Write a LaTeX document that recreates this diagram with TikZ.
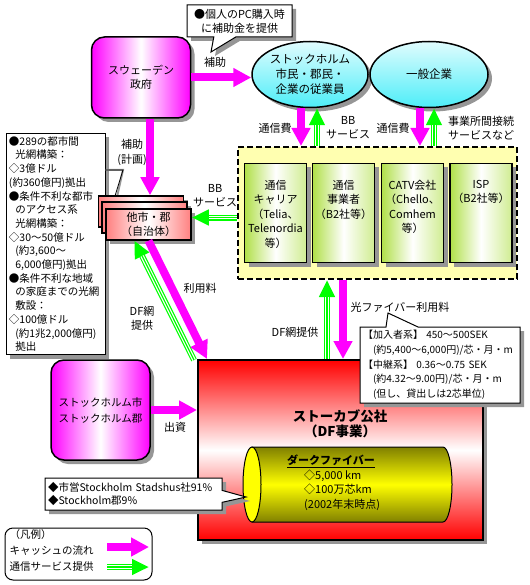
\documentclass[tikz,border=0pt]{standalone}
\usepackage{fontspec}
\setmainfont{Noto Sans CJK JP}
\usetikzlibrary{arrows.meta,shadows,shapes.geometric,shapes.callouts}
\definecolor{flowgreen}{RGB}{0,255,0}
\definecolor{cashpink}{RGB}{255,0,255}
\definecolor{skycyan}{RGB}{0,230,245}
\definecolor{boxred}{RGB}{255,0,0}
\definecolor{fiberyellow}{RGB}{255,255,0}
\definecolor{fiberolive}{RGB}{128,128,0}
\definecolor{panelyellow}{RGB}{255,255,176}
\definecolor{leafgreen}{RGB}{176,224,72}
\definecolor{stackred}{RGB}{255,128,128}
\definecolor{shadowgray}{RGB}{150,150,150}
\tikzset{%
  % Specifications for style of nodes:
  base/.style = {
    rectangle,
    draw=black,
    line width=1.5pt,
    text centered,
    align=center,
    inner sep=1pt
  },
  shadowed/.style = {drop shadow={fill=shadowgray, opacity=1,
      shadow xshift=4pt, shadow yshift=-4pt}},
  actor/.style = {base, shadowed, rounded corners=13pt,
    left color=cashpink, right color=cashpink, middle color=white},
  user/.style = {base, ellipse, shadowed, inner sep=0pt,
    top color=skycyan!12, bottom color=skycyan!70},
  panel/.style = {base, line width=2pt, dash pattern=on 6pt off 3pt,
    fill=panelyellow},
  provider/.style = {base, shadowed, minimum width=62pt, minimum height=99pt,
    left color=leafgreen, right color=leafgreen!60, middle color=white},
  provtext/.style = {align=center, anchor=north, inner sep=0pt,
    font=\fontsize{11}{14.5}\selectfont},
  local/.style = {base, shadowed, minimum width=85pt, minimum height=31pt,
    left color=stackred, right color=stackred, middle color=white},
  stokab/.style = {base, line width=2pt, shadowed,
    top color=boxred, bottom color=boxred, middle color=white},
  memo/.style = {rectangle, draw=black, line width=1pt, fill=white,
    align=left, inner sep=3pt, font=\fontsize{10.5}{13}\selectfont,
    drop shadow={fill=shadowgray, opacity=1, shadow xshift=4pt, shadow yshift=-4pt}},
  note/.style = {memo, rectangle callout},
  tag/.style = {align=center, inner sep=0pt, font=\fontsize{11}{14.5}\selectfont},
  % Specifications for style of flows:
  cash/.style = {draw=cashpink, line width=8pt,
    -{Triangle[length=18pt,width=18pt]}},
  serv/.style = {draw=flowgreen, line width=6pt,
    -{Triangle[length=17pt,width=15pt]},
    postaction={draw=white, line width=3.6pt, -, shorten >=17pt},
    postaction={draw=flowgreen, line width=1.2pt, -, shorten >=17pt}},
}

\begin{document}
\begin{tikzpicture}[
  x=1pt, y=-1pt,
  font=\fontsize{11}{14}\selectfont,
  ]
  \useasboundingbox (0,0) rectangle (529,585);
  % providers
  \node (panel) [panel, minimum width=279pt, minimum height=132pt] at (377.5,213) {};
  \node (carrier) [provider] at (275.5,213) {};
  \node (operator) [provider] at (343.5,213) {};
  \node (catv) [provider] at (412.5,213) {};
  \node (isp) [provider] at (481,213) {};
  \node (carrier_t) [provtext] at ([yshift=-17pt]carrier.north)
  {通信\\キャリア\\（Telia、\\Telenordia\\等）};
  \node (operator_t) [provtext] at ([yshift=-17pt]operator.north)
  {通信\\事業者\\（B2社等）};
  \node (catv_t) [provtext] at ([yshift=-17pt]catv.north)
  {CATV会社\\（Chello、\\Comhem\\等）};
  \node (isp_t) [provtext] at ([yshift=-17pt]isp.north)
  {ISP\\（B2社等）};
  % nodes
  \node (gov) [actor, minimum width=99pt, minimum height=81pt] at (141,77.5)
  {スウェーデン\\政府};
  \node (pcnote) [note, align=center, minimum width=105pt, minimum height=32pt,
    font=\fontsize{11}{14}\selectfont,
    callout absolute pointer={(211,52)}, callout pointer width=22pt] at (239.5,21)
  {●個人のPC購入時\\に補助金を提供};
  \node (cit) [user, minimum width=116pt, minimum height=66pt,
    font=\fontsize{11.5}{15}\selectfont] at (310,74.5)
  {ストックホルム\\市民・郡民・\\企業の従業員};
  \node (biz) [user, minimum width=118pt, minimum height=66pt,
    font=\fontsize{11.5}{15}\selectfont] at (429,74.5)
  {一般企業};
  \node (fund) [memo, text width=93pt, minimum height=220pt,
    font=\fontsize{10.5}{13.7}\selectfont] at (55.5,244)
  {●289の都市間\\
    \hspace*{.6em}光網構築：\\
    ◇3億ドル\\
    (約360億円)拠出\\
    ●条件不利な都市\\
    \hspace*{.6em}のアクセス系\\
    \hspace*{.6em}光網構築：\\
    ◇30～50億ドル\\
    \hspace*{.6em}(約3,600～\\
    \hspace*{.6em}6,000億円)拠出\\
    ●条件不利な地域\\
    \hspace*{.6em}の家庭までの光網\\
    \hspace*{.6em}敷設：\\
    ◇100億ドル\\
    \hspace*{.6em}(約1兆2,000億円)\\
    \hspace*{.6em}拠出};
  \coordinate (fundbend) at (123,170);
  \draw[shadowgray, line width=2pt, xshift=2pt, yshift=-1pt]
  (fund.east |- fundbend) -- (fundbend) -- (115,196);
  \draw[line width=0.8pt] (fund.east |- fundbend) -- (fundbend) -- (115,196);
  \node (stackA) [local] at (141,211.5) {};
  \node (stackB) [local] at (144.5,217.5) {};
  \node (stack) [local] at (148.5,224.5) {他市・郡\\（自治体）};
  % stokab
  \node (stokab) [stokab, minimum width=285pt, minimum height=180pt] at (340.5,450) {};
  \node (stokab_t) [tag, font=\fontsize{13.5}{15.5}\selectfont\bfseries] at (340,424)
  {ストーカブ公社\\（DF事業）};
  \path[draw=black, line width=1pt, top color=fiberolive, bottom color=fiberolive,
    middle color=fiberyellow]
  (252,447) -- (443,447) arc (-90:90:9 and 37.5) -- (252,522) -- cycle;
  \draw[line width=1pt, fill=fiberyellow] (252,484.5) ellipse (9 and 37.5);
  \node (darkfiber) [anchor=north west, align=left, inner sep=0pt,
    font=\fontsize{11}{14.5}\selectfont] at (287,455)
  {\underline{\textbf{ダークファイバー}}\\
    \hspace*{17pt}◇5,000 km\\
    \hspace*{17pt}◇100万芯km\\
    \hspace*{17pt}(2002年末時点)};
  \node (price) [note, text width=154pt, minimum height=76pt,
    font=\fontsize{10}{14.7}\selectfont,
    callout absolute pointer={(388,313)}, callout pointer width=32pt] at (440,365)
  {【加入者系】\ 450～500SEK\\
    \hspace*{1em}(約5,400～6,000円)/芯・月・m\\
    【中継系】\ 0.36～0.75 SEK\\
    \hspace*{1em}(約4.32～9.00円)/芯・月・m\\
    \hspace*{1em}(但し、貸出しは2芯単位)};
  \node (city) [actor, minimum width=99pt, minimum height=100pt,
    font=\fontsize{10.5}{16}\selectfont] at (100.5,410)
  {ストックホルム市\\ストックホルム郡};
  \node (owner) [note, text width=171pt, minimum height=32pt,
    font=\fontsize{10.5}{13.5}\selectfont,
    callout absolute pointer={(246,497)}, callout pointer width=12pt] at (133.5,494)
  {◆市営Stockholm Stadshus社91\%\\◆Stockholm郡9\%};
  % legend
  \node (legend) [rectangle, draw, line width=1pt, rounded corners=8pt,
    minimum width=147pt, minimum height=52pt] at (78.5,554) {};
  \node (legend_t) [anchor=north west, align=left, inner sep=0pt,
    font=\fontsize{10.5}{16}\selectfont] at ([xshift=5pt,yshift=-2pt]legend.north west)
  {（凡例）\\キャッシュの流れ\\通信サービス提供};
  \coordinate (cashA) at (107,547);
  \coordinate (cashB) at (149,547);
  \coordinate (servA) at (107,567);
  \coordinate (servB) at (149,567);
  % labels
  \node (subsidy) [tag] at (215,62) {補助};
  \node (plan) [tag] at (132,152.5) {補助\\(計画)};
  \node (fee1) [tag] at (275,128) {通信費};
  \node (bb1) [tag] at (348,127.5) {BB\\サービス};
  \node (fee2) [tag] at (393,128) {通信費};
  \node (conn) [tag] at (481,128) {事業所間接続\\サービスなど};
  \node (bb2) [tag] at (215,195.5) {BB\\サービス};
  \node (usefee) [tag] at (200,288) {利用料};
  \node (dfnet) [tag] at (142,318.5) {DF網\\提供};
  \node (dfnet2) [tag] at (295,332) {DF網提供};
  \node (fiberfee) [tag] at (400,307) {光ファイバー利用料};
  \node (invest) [tag] at (175,427) {出資};
  % lines
  \coordinate (govdown) at ([xshift=9pt]gov.south);
  \coordinate (citfee) at ([xshift=-9pt]cit.south);
  \coordinate (citbb) at ([xshift=7pt]cit.south);
  \coordinate (bizfee) at ([xshift=-9pt]biz.south);
  \coordinate (bizconn) at ([xshift=5pt]biz.south);
  \coordinate (bbend) at ([yshift=7pt]stack.east);
  \coordinate (dfup) at ([xshift=-13.5pt]stokab.north);
  \coordinate (fibdown) at ([xshift=2.5pt]stokab.north);
  \draw[cash] (gov.east) -- (gov.east -| cit.west);
  \draw[cash] (govdown) -- (govdown |- stackA.north);
  \draw[cash] (citfee) -- (citfee |- panel.north);
  \draw[serv] (citbb |- panel.north) -- (citbb);
  \draw[cash] (bizfee) -- (bizfee |- panel.north);
  \draw[serv] (bizconn |- panel.north) -- (bizconn);
  \draw[serv] (panel.west |- bbend) -- (bbend);
  \draw[serv] ([xshift=-3pt,yshift=-1pt]stokab.north west) -- ([xshift=-14pt]stack.south);
  \draw[cash] (stack.south) -- ([xshift=10pt]stokab.north west);
  \draw[serv] (dfup) -- (dfup |- panel.south);
  \draw[cash] (fibdown |- panel.south) -- (fibdown);
  \draw[cash] (city.east) -- (city.east -| stokab.west);
  \draw[cash] (cashA) -- (cashB);
  \draw[serv] (servA) -- (servB);
\end{tikzpicture}
\end{document}
